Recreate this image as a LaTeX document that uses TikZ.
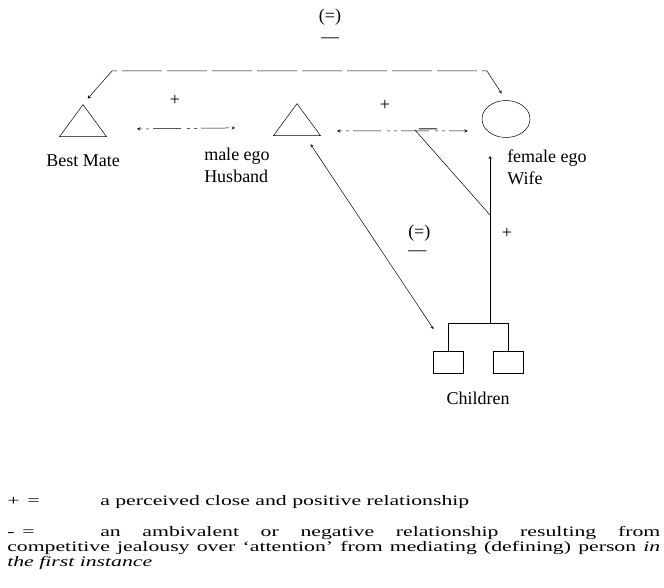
\documentclass[tikz,border=0pt]{standalone}
\usepackage{fontspec}
\setmainfont{Liberation Serif}
\newfontfamily\legendfont[FakeStretch=1.5]{Liberation Serif}
\usetikzlibrary{arrows.meta, positioning, shapes.geometric}

\begin{document}
\begin{tikzpicture}[
    x = 1pt, y = -1pt,
    line width = 0.5pt,
    mann/.style = {isosceles triangle, shape border rotate=90,
      isosceles triangle stretches, minimum width=47pt, minimum height=32pt,
      inner sep=0pt, draw, anchor=apex},
    kvinne/.style = {ellipse, draw, minimum width=48pt, minimum height=37pt, inner sep=0pt},
    barn/.style = {rectangle, draw, minimum width=30pt, minimum height=22pt, inner sep=0pt},
    merke/.style = {inner sep=0pt, font=\fontsize{18}{22}\selectfont},
    tekst/.style = {inner sep=0pt, anchor=base west, font=\legendfont\fontsize{14.5}{14.5}\selectfont},
    pil/.style = {black, -stealth},
    tvei/.style = {black, stealth-stealth},
    brutt/.style = {dash pattern=on 3pt off 4pt on 3pt off 4pt on 28pt off 6pt}
    ]
  \useasboundingbox (0,0) rectangle (664,588);

  % people
  \node[mann] (bm) at (83,104) {};
  \node[mann] (hb) at (297,103) {};
  \node[kvinne] (wf) at (506,119) {};
  \node[barn] (ch1) at (448,362) {};
  \node[barn] (ch2) at (508,362) {};

  \node[merke] (bmlab) [below=18pt of bm] {Best Mate};
  \node[merke, align=left, anchor=north west] (hblab) at (204,148) {male ego\\Husband};
  \node[merke, align=left, anchor=north west] (wflab) at (507,150) {female ego\\Wife};
  \node[merke, anchor=base] (chlab) at (478,404) {Children};

  % signs
  \node[merke, anchor=base] (eq1) at (330,22) {(=)};
  \node[merke] (m1) at (330,40) {—};
  \node[merke] (p1) at (175,100) {+};
  \node[merke] (p2) at (385,105) {+};
  \node[merke] (p3) at (507,233) {+};
  \node[merke, anchor=base west] (eq2) at (408,237) {(=)};
  \node[merke, anchor=west] (m2) at (408,253) {—};

  % links
  \coordinate (t1) at (112,71);
  \coordinate (t2) at (487,71);
  \coordinate (fork) at (490,323);
  \coordinate (gren) at (490,215);
  \coordinate (hwpkt) at (415,130);

  \draw[tvei, dash pattern=on 40pt off 5pt, shorten <=7pt, shorten >=8pt]
  (bm.apex) -- (t1) -- (t2) -- (wf.north);
  \draw[tvei, brutt] ([shift={(30,-8)}]bm.right corner) -- ([shift={(-38,-8)}]hb.left corner);
  \draw[tvei, brutt] ([shift={(16,-5)}]hb.right corner) -- ([shift={(-14,12)}]wf.west);
  \node[merke] (m3) at (428,131) {—};

  \draw (ch1.north) |- (ch2.north |- fork) -- (ch2.north);
  \draw[pil, shorten >=18pt] (fork) -- (fork |- wf.south);
  \draw (gren) -- (hwpkt);
  \draw[tvei, shorten <=10pt, shorten >=26pt] ([shift={(8,0)}]hb.south) -- (ch1.north);

  % key
  \node[tekst] (k1) at (7,505) {+ \,=};
  \node[tekst] (k1t) at (100,505) {a perceived close and positive relationship};
  \node[tekst] (k2) at (7,536) {- \,=};
  \node[tekst] (k2t) at (100,536) {\makebox[560pt][s]{an ambivalent or negative relationship resulting from}};
  \node[tekst] (k3) at (7,551) {\makebox[653pt][s]{competitive jealousy over ‘attention’ from mediating (defining) person \textit{in}}};
  \node[tekst] (k4) at (7,566) {\textit{the first instance}};

\end{tikzpicture}
\end{document}
